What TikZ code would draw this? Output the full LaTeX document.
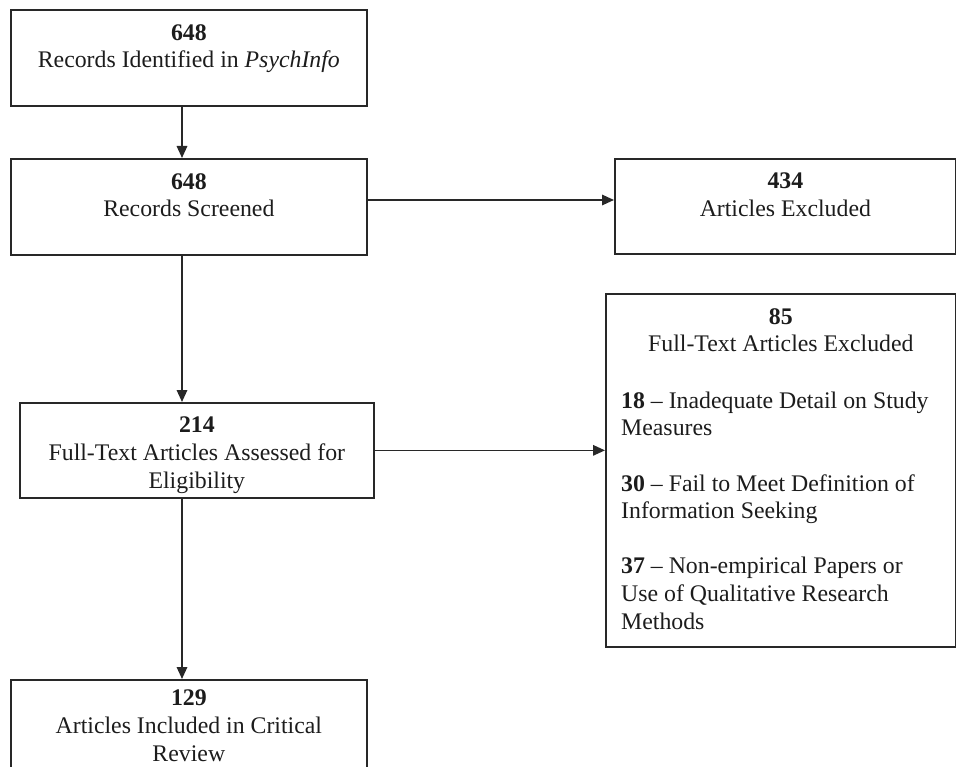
\documentclass[tikz,border=0pt]{standalone}
\usepackage{fontspec}
\setmainfont{Liberation Serif}
\usetikzlibrary{arrows.meta}
\definecolor{linec}{RGB}{40,40,40}
\definecolor{textc}{RGB}{28,28,28}
\begin{document}
\begin{tikzpicture}[x=1pt,y=-1pt,
  box/.style={draw=linec, line width=1.7pt, rectangle, anchor=north west, inner sep=0pt},
  txt/.style={font=\fontsize{23.8}{27.6}\selectfont, align=center, inner sep=0pt, anchor=north, text=textc},
  bodytxt/.style={font=\fontsize{23.8}{27.6}\selectfont, align=left, inner sep=0pt, anchor=north west, text=textc},
  arr/.style={draw=linec, line width=1.7pt, -{Triangle[length=12pt,width=10.5pt]}}]
\useasboundingbox (0,0) rectangle (956,767);

\node[box, minimum width=356pt, minimum height=96pt] (b1) at (10,9) {};
\node[box, minimum width=356pt, minimum height=96pt] (b2) at (10,158) {};
\node[box, minimum width=341pt, minimum height=95pt] (b3) at (614,158) {};
\node[box, minimum width=354pt, minimum height=95pt] (b4) at (19,402) {};
\node[box, minimum width=350pt, minimum height=353pt] (b5) at (605,293) {};
\node[box, minimum width=356pt, minimum height=96pt] (b6) at (10,679) {};

\node[txt] (t1) at ([yshift=-15pt]b1.north) {\textbf{648}\\Records Identified in \textit{PsychInfo}};
\node[txt] (t2) at ([yshift=-15pt]b2.north) {\textbf{648}\\Records Screened};
\node[txt] (t3) at ([yshift=-15pt]b3.north) {\textbf{434}\\Articles Excluded};
\node[txt] (t4) at ([yshift=-15pt]b4.north) {\textbf{214}\\Full-Text Articles Assessed for\\Eligibility};
\node[txt] (t5) at ([yshift=-15pt]b5.north) {\textbf{85}\\Full-Text Articles Excluded};
\node[bodytxt] (t5b) at (621,391.5) {\textbf{18} – Inadequate Detail on Study\\Measures\\[27.6pt]\textbf{30} – Fail to Meet Definition of\\Information Seeking\\[27.6pt]\textbf{37} – Non-empirical Papers or\\Use of Qualitative Research\\Methods};
\node[txt] (t6) at ([yshift=-11pt]b6.north) {\textbf{129}\\Articles Included in Critical\\Review};

\coordinate (ax) at (182,0);
\coordinate (ay) at (0,200);
\draw[arr] (b1.south -| ax) -- (b2.north -| ax);
\draw[arr] (b2.south -| ax) -- (b4.north -| ax);
\draw[arr] (b4.south -| ax) -- (b6.north -| ax);
\draw[arr] (b2.east |- ay) -- (b3.west |- ay);
\draw[arr] (b4.east) -- (b5.west |- b4.east);
\end{tikzpicture}
\end{document}
